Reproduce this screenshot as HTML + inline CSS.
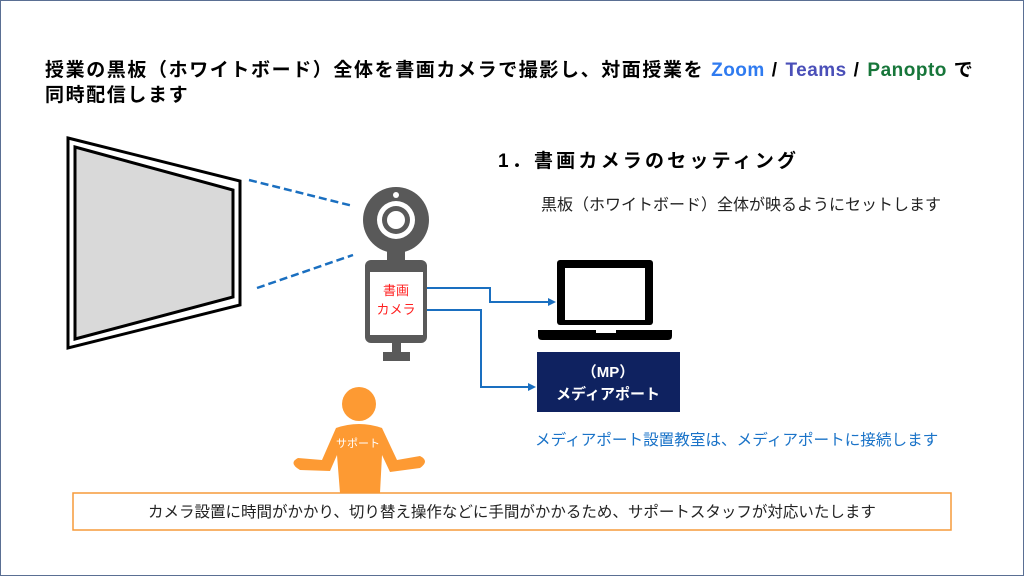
<!DOCTYPE html>
<html><head><meta charset="utf-8"><style>
body{margin:0;width:1024px;height:576px;overflow:hidden;background:#fff;font-family:"Liberation Sans","Noto Sans CJK JP",sans-serif;}
.frame{position:absolute;left:0;top:0;width:1022px;height:574px;border:1px solid #5a6f93;}
.t{position:absolute;white-space:nowrap;}
</style></head><body>
<div class="frame"></div>
<div class="t" style="left:45px;top:58px;font-size:19px;font-weight:bold;line-height:25px;letter-spacing:1.6px;color:#000;">授業の黒板（ホワイトボード）全体を書画カメラで撮影し、対面授業を <span style="color:#2f7bf0;letter-spacing:0.5px">Zoom</span> / <span style="color:#4a4fb8;letter-spacing:0.5px">Teams</span> / <span style="color:#17763a;letter-spacing:0.5px">Panopto</span> で<br>同時配信します</div>
<div class="t" style="left:498px;top:146px;font-size:19px;font-weight:bold;letter-spacing:3.2px;">1．書画カメラのセッティング</div>
<div class="t" style="left:541px;top:191px;font-size:16px;color:#222;">黒板（ホワイトボード）全体が映るようにセットします</div>
<div class="t" style="left:535px;top:428px;font-size:15.6px;color:#1a73c8;">メディアポート設置教室は、メディアポートに接続します</div>
<svg width="1024" height="576" style="position:absolute;left:0;top:0">
<polygon points="68,138 240,181 240,305 68,348" fill="#fff" stroke="#000" stroke-width="3"/>
<polygon points="75,147 233,190 233,297 75,339" fill="#d9d9d9" stroke="#000" stroke-width="3"/>
<line x1="249" y1="180" x2="353" y2="206" stroke="#1a6fc0" stroke-width="2.5" stroke-dasharray="8,4"/>
<line x1="257" y1="288" x2="353" y2="255" stroke="#1a6fc0" stroke-width="2.5" stroke-dasharray="8,4"/>
<circle cx="396" cy="220" r="33" fill="#595959"/>
<circle cx="396" cy="220" r="19" fill="#fff"/>
<circle cx="396" cy="220" r="14" fill="#595959"/>
<circle cx="396" cy="220" r="9" fill="#fff"/>
<circle cx="396" cy="195" r="3" fill="#fff"/>
<rect x="387" y="250" width="18" height="14" fill="#595959"/>
<rect x="365" y="260" width="62" height="83" rx="6" fill="#595959"/>
<rect x="370" y="272" width="53" height="63" fill="#fff"/>
<rect x="392" y="343" width="9" height="10" fill="#595959"/>
<rect x="383" y="352" width="27" height="9" fill="#595959"/>
<text x="396" y="295" font-size="13" fill="#ff1f1f" text-anchor="middle" font-family="Liberation Sans, Noto Sans CJK JP, sans-serif">書画</text>
<text x="396" y="314" font-size="13" fill="#ff1f1f" text-anchor="middle" font-family="Liberation Sans, Noto Sans CJK JP, sans-serif">カメラ</text>
<polyline points="427,288 490,288 490,302 552,302" fill="none" stroke="#1a6fc0" stroke-width="2"/>
<polygon points="556,302 548,298 548,306" fill="#1a6fc0"/>
<polyline points="427,310 481,310 481,387 532,387" fill="none" stroke="#1a6fc0" stroke-width="2"/>
<polygon points="536,387 528,383 528,391" fill="#1a6fc0"/>
<rect x="557" y="260" width="96" height="65" rx="3" fill="#000"/>
<rect x="565" y="268" width="80" height="52" fill="#fff"/>
<path d="M538 330 H672 V336 Q672 340 668 340 H542 Q538 340 538 336 Z" fill="#000"/>
<rect x="596" y="330" width="20" height="3" fill="#fff"/>
<rect x="537" y="352" width="143" height="60" fill="#0f2260"/>
<text x="608" y="377" font-size="15" font-weight="bold" fill="#fff" text-anchor="middle" font-family="Liberation Sans, Noto Sans CJK JP, sans-serif">（MP）</text>
<text x="608" y="399" font-size="15" font-weight="bold" fill="#fff" text-anchor="middle" font-family="Liberation Sans, Noto Sans CJK JP, sans-serif">メディアポート</text>
<circle cx="359" cy="404" r="17" fill="#fd9a33"/>
<path d="M336 428 Q359 420 382 428 L397 460 L420 456 Q430 461 420 468 L390 472 L382 455 L380 493 L340 493 L337 455 L330 471 L300 470 Q288 463 298 458 L322 460 Z" fill="#fd9a33"/>
<text x="358" y="447" font-size="11" fill="#fff" text-anchor="middle" font-family="Liberation Sans, Noto Sans CJK JP, sans-serif">サポート</text>
<rect x="73" y="493" width="878" height="37" fill="#fff" stroke="#f59a3a" stroke-width="1.5"/>
<text x="512" y="517" font-size="15.5" fill="#222" text-anchor="middle" font-family="Liberation Sans, Noto Sans CJK JP, sans-serif">カメラ設置に時間がかかり、切り替え操作などに手間がかかるため、サポートスタッフが対応いたします</text>
</svg>
</body></html>
